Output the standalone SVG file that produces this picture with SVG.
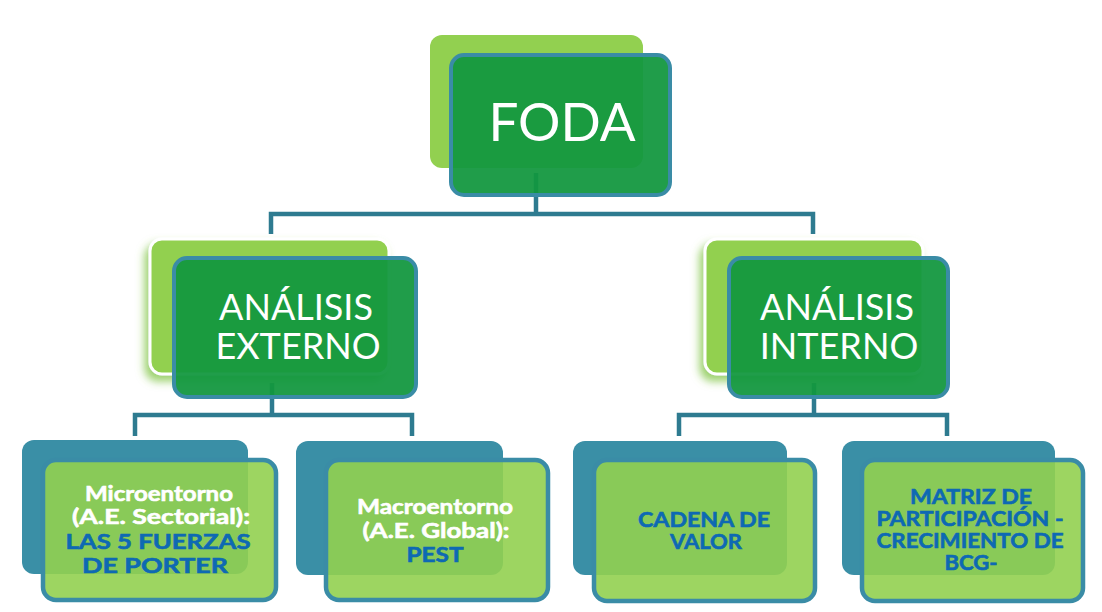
<svg xmlns="http://www.w3.org/2000/svg" width="1102" height="612" viewBox="0 0 1102 612">
  <defs>
    <filter id="glow" x="-20%" y="-20%" width="140%" height="150%">
      <feDropShadow dx="-4" dy="6" stdDeviation="4" flood-color="#7cc23c" flood-opacity="0.75"/>
    </filter>
    <style>
      .conn { fill: none; stroke: #2e7b90; stroke-width: 4.5; stroke-linejoin: miter; }
      .top-back { fill: #92d050; }
      .mid-back { fill: #92d050; stroke: #ffffff; stroke-width: 3; filter: url(#glow); }
      .dark-front { fill: #12973f; fill-opacity: 0.94; stroke: #3a8ca6; stroke-width: 4; }
      .low-back { fill: #3a8fa6; }
      .low-front { fill: #92d050; fill-opacity: 0.9; stroke: #3a8ca6; stroke-width: 4.5; }
      .big { font-family: Lato, "Liberation Sans", sans-serif; fill: #ffffff; text-anchor: middle; }
      .small { font-family: Lato, "Open Sans", "Liberation Sans", sans-serif; font-weight: 700; font-size: 21px; text-anchor: middle; stroke-width: 0.6; }
      .w { fill: #ffffff; stroke: #ffffff; }
      .b { fill: #0e69b3; stroke: #0e69b3; }
    </style>
  </defs>

  <!-- tree connectors, drawn beneath the translucent boxes -->
  <g id="connectors">
    <path class="conn" d="M271,234 V214 H813 V234 M536,173 V214"/>
    <path class="conn" d="M135,436 V415 H412 V436 M272,383 V415"/>
    <path class="conn" d="M679,436 V415 H947 V436 M814,383 V415"/>
  </g>

  <!-- root -->
  <g id="foda">
    <rect class="top-back" x="430" y="35" width="213" height="133" rx="12"/>
    <rect class="dark-front" x="451" y="55" width="219" height="140" rx="13"/>
    <text class="big" x="562" y="141" font-size="53">FODA</text>
  </g>

  <!-- second level -->
  <g id="analisis-externo">
    <rect class="mid-back" x="150" y="239" width="239" height="135" rx="12"/>
    <rect class="dark-front" x="174" y="258" width="242" height="139" rx="13"/>
    <text class="big" x="296" y="320" font-size="36">ANÁLISIS</text>
    <text class="big" x="298" y="359" font-size="36">EXTERNO</text>
  </g>

  <g id="analisis-interno">
    <rect class="mid-back" x="705" y="239" width="218" height="135" rx="12"/>
    <rect class="dark-front" x="729" y="258" width="219" height="139" rx="13"/>
    <text class="big" x="837" y="320" font-size="36">ANÁLISIS</text>
    <text class="big" x="839" y="359" font-size="36">INTERNO</text>
  </g>

  <!-- third level -->
  <g id="microentorno">
    <rect class="low-back" x="22" y="440" width="226" height="134" rx="12"/>
    <rect class="low-front" x="43" y="460" width="233" height="140" rx="13"/>
    <text class="small w" x="159" y="501" textLength="148" lengthAdjust="spacingAndGlyphs">Microentorno</text>
    <text class="small w" x="161" y="524" textLength="178" lengthAdjust="spacingAndGlyphs">(A.E. Sectorial):</text>
    <text class="small b" x="158" y="549" textLength="185" lengthAdjust="spacingAndGlyphs">LAS 5 FUERZAS</text>
    <text class="small b" x="155" y="573" textLength="146" lengthAdjust="spacingAndGlyphs">DE PORTER</text>
  </g>

  <g id="macroentorno">
    <rect class="low-back" x="296" y="441" width="207" height="134" rx="12"/>
    <rect class="low-front" x="326" y="460" width="222" height="140" rx="13"/>
    <text class="small w" x="435" y="514" textLength="156" lengthAdjust="spacingAndGlyphs">Macroentorno</text>
    <text class="small w" x="436" y="538" textLength="147" lengthAdjust="spacingAndGlyphs">(A.E. Global):</text>
    <text class="small b" x="435" y="562" textLength="57" lengthAdjust="spacingAndGlyphs">PEST</text>
  </g>

  <g id="cadena-valor">
    <rect class="low-back" x="573" y="441" width="214" height="134" rx="12"/>
    <rect class="low-front" x="594" y="460" width="221" height="141" rx="13"/>
    <text class="small b" x="704" y="527" textLength="132" lengthAdjust="spacingAndGlyphs">CADENA DE</text>
    <text class="small b" x="706" y="549" textLength="72" lengthAdjust="spacingAndGlyphs">VALOR</text>
  </g>

  <g id="matriz-bcg">
    <rect class="low-back" x="842" y="441" width="213" height="134" rx="12"/>
    <rect class="low-front" x="862" y="460" width="221" height="141" rx="13"/>
    <text class="small b" x="971" y="504" textLength="122" lengthAdjust="spacingAndGlyphs">MATRIZ DE</text>
    <text class="small b" x="970" y="526" textLength="187" lengthAdjust="spacingAndGlyphs">PARTICIPACIÓN -</text>
    <text class="small b" x="970" y="548" textLength="187" lengthAdjust="spacingAndGlyphs">CRECIMIENTO DE</text>
    <text class="small b" x="971" y="570" textLength="53" lengthAdjust="spacingAndGlyphs">BCG-</text>
  </g>
</svg>
